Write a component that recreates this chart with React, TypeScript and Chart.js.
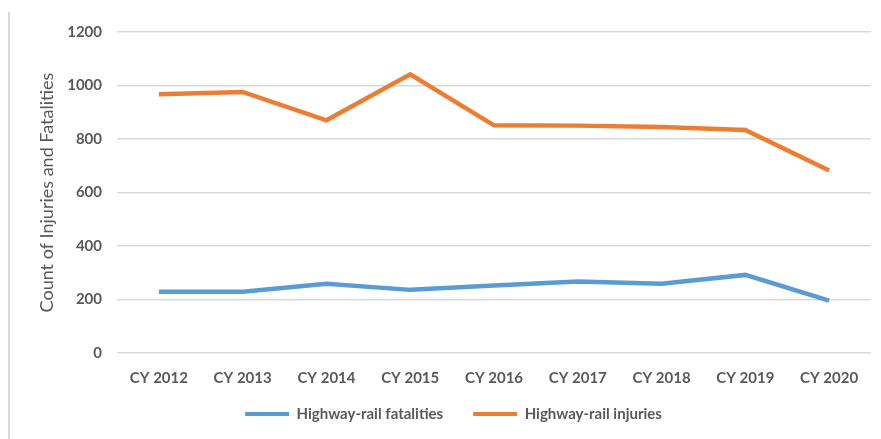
import React, { useEffect, useRef } from "react";
import { Chart, registerables } from "chart.js";

Chart.register(...registerables);

const categories = ["CY 2012", "CY 2013", "CY 2014", "CY 2015", "CY 2016", "CY 2017", "CY 2018", "CY 2019", "CY 2020"];
const fatalities = [229, 229, 259, 236, 252, 267, 259, 292, 196];
const injuries = [967, 976, 870, 1042, 851, 850, 845, 834, 682];
const yTicks = [0, 200, 400, 600, 800, 1000, 1200];

const FONT = "Lato, 'Open Sans', sans-serif";
const TEXT = "#595959";

const framePlugin = {
  id: "frameLine",
  afterLayout(chart: any) {
    const lg = chart.legend;
    if (lg) {
      lg.top -= 16.5;
      lg.bottom -= 16.5;
    }
  },
  afterDraw(chart: any) {
    const ctx = chart.ctx;
    ctx.save();
    ctx.strokeStyle = "#d9d9d9";
    ctx.lineWidth = 2;
    ctx.beginPath();
    ctx.moveTo(9, 12);
    ctx.lineTo(9, chart.height);
    ctx.stroke();
    ctx.restore();
  },
};

export default function App() {
  const ref = useRef<HTMLCanvasElement>(null);
  useEffect(() => {
    if (!ref.current) return;
    const chart = new Chart(ref.current, {
      type: "line",
      data: {
        labels: categories,
        datasets: [
          {
            label: "Highway-rail fatalities",
            data: fatalities,
            borderColor: "#5B9BD5",
            backgroundColor: "#5B9BD5",
            borderWidth: 4.5,
            pointRadius: 0,
            tension: 0,
          },
          {
            label: "Highway-rail injuries",
            data: injuries,
            borderColor: "#ED7D31",
            backgroundColor: "#ED7D31",
            borderWidth: 4.5,
            pointRadius: 0,
            tension: 0,
          },
        ],
      },
      options: {
        responsive: false,
        animation: false,
        layout: { padding: { top: 32, right: 10, left: 36, bottom: -9 } },
        plugins: {
          tooltip: { enabled: false },
          legend: {
            position: "bottom",
            labels: {
              boxWidth: 44,
              boxHeight: 4,
              padding: 30,
              color: TEXT,
              font: { family: FONT, size: 15, weight: "bold" },
              generateLabels: (c: any) =>
                c.data.datasets.map((d: any, i: number) => ({
                  text: d.label,
                  fillStyle: d.borderColor,
                  strokeStyle: d.borderColor,
                  lineWidth: 0,
                  hidden: false,
                  datasetIndex: i,
                  fontColor: TEXT,
                })),
            },
          },
        },
        scales: {
          x: {
            offset: true,
            grid: { display: false, drawTicks: false },
            border: { display: false },
            ticks: { color: TEXT, font: { family: FONT, size: 15, weight: "bold" }, padding: 16, maxRotation: 0 },
            afterFit: (s: any) => {
              s.height = 40;
            },
          },
          y: {
            min: 0,
            max: 1200,
            afterBuildTicks: (s: any) => {
              s.ticks = yTicks.map((v) => ({ value: v }));
            },
            grid: { color: "#d9d9d9", lineWidth: 1.5, drawTicks: false },
            border: { display: false },
            ticks: {
              color: TEXT,
              font: { family: FONT, size: 15, weight: "bold" },
              padding: 15,
              callback: (v: any) => String(v),
            },
            title: {
              display: true,
              text: "Count of Injuries and Fatalities",
              color: TEXT,
              font: { family: FONT, size: 18 },
              padding: 0,
            },
            afterFit: (s: any) => {
              s.width = 117 - 36;
            },
          },
        },
      },
      plugins: [framePlugin],
    });
    return () => chart.destroy();
  }, []);
  return (
    <div style={{ position: "absolute", left: 0, top: 0, width: 881, height: 439, background: "#fff" }}>
      <canvas ref={ref} width={881} height={439} style={{ display: "block" }} />
    </div>
  );
}
